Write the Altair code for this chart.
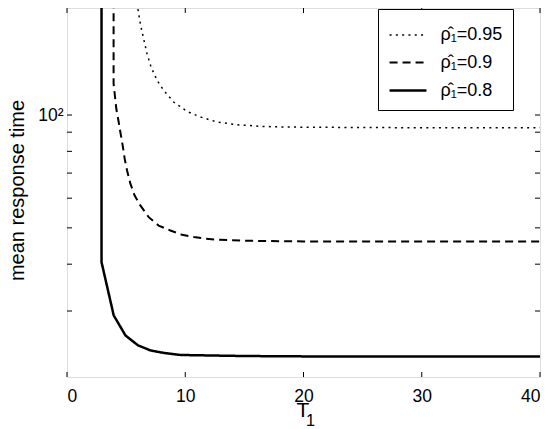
import altair as alt
import pandas as pd

# ---- data ----
LABELS = ["ρ̂₁=0.95", "ρ̂₁=0.9", "ρ̂₁=0.8"]
PAD = "\u2003\u2003"

T_095 = [5.8, 5.98, 6.2, 6.48, 6.77, 7.11, 7.62, 8.18, 9.02, 10.16, 11.28, 12.7,
         14.39, 16.64, 17.77, 20, 25, 30, 35, 40]
R_095 = [215, 193, 175.3, 159.8, 145.7, 134.3, 123.7, 116.3, 108.3, 102.2, 98.8, 95.8,
         94.2, 93.2, 93.0, 92.8, 92.6, 92.5, 92.5, 92.5]

T_09 = [3.94, 3.94, 4.17, 4.37, 4.51, 4.71, 4.88, 5.08, 5.36, 5.72, 6.2, 6.91, 7.75,
        8.74, 9.73, 10.72, 11.71, 12.7, 15, 20, 25, 30, 35, 40]
R_09 = [1000, 121.2, 103.9, 95.8, 90.1, 82.9, 76.4, 71.1, 65.6, 61.0, 57.4, 53.4, 50.7,
        49.2, 47.9, 47.3, 46.8, 46.5, 46.2, 46.0, 46.0, 46.0, 46.0, 46.0]

T_08 = [2.92, 2.92, 3.95, 4.95, 6.0, 7.05, 8.15, 9.6, 11.3, 15, 20, 25, 30, 35, 40]
R_08 = [1000, 40.5, 29.2, 25.8, 24.3, 23.55, 23.2, 22.9, 22.85, 22.75, 22.7, 22.7,
        22.7, 22.7, 22.7]

X_TICKS = [0, 10, 20, 30, 40]
Y_TICKS = [30, 40, 50, 60, 70, 80, 90, 100]
X_DOMAIN = [0, 40]
Y_DOMAIN = [20, 193]
SUBSCRIPT = ["1"]

rows = []
for lab, ts, rs in zip(LABELS, [T_095, T_09, T_08], [R_095, R_09, R_08]):
    for i, (t, r) in enumerate(zip(ts, rs)):
        rows.append({"series": lab, "t": t, "v": r, "i": i})
df = pd.DataFrame(rows)

W, H = 473, 369
FONT = "Liberation Sans, Arial, Helvetica, sans-serif"

xscale = alt.Scale(domain=X_DOMAIN, nice=False, zero=False)
yscale = alt.Scale(type="log", domain=Y_DOMAIN, nice=False)

xaxis = alt.Axis(
    values=X_TICKS, title="T", ticks=False, tickSize=0, domain=False, grid=False,
    labelPadding=10, labelFont=FONT, labelFontSize=17.5, labelColor="black",
    titleFont=FONT, titleFontSize=21, titleFontWeight="normal", titleColor="black",
    titleX=235.3, titleY=39.7, titleBaseline="alphabetic", titleAlign="center")
yaxis = alt.Axis(
    values=Y_TICKS, labelExpr="datum.value == 100 ? '10²' : ''",
    title="mean response time", ticks=False, tickSize=0, domain=False, grid=False,
    labelPadding=4, labelFont=FONT, labelFontSize=17.5, labelColor="black",
    titleFont=FONT, titleFontSize=20, titleFontWeight="normal", titleColor="black",
    titleX=-44, titleY=182, titleAngle=270, titleBaseline="alphabetic",
    titleAlign="center")

legend = alt.Legend(
    title=None, orient="none", legendX=311, legendY=1,
    strokeColor="black", fillColor="white", padding=10,
    symbolType="M-1.23,0H1.23", symbolSize=900, symbolOffset=3.5,
    symbolStrokeColor="black", labelOffset=16,
    labelExpr="datum.label + '" + PAD + "'",
    labelFont=FONT, labelFontSize=18, labelColor="black", rowPadding=2.5,
)

lines = alt.Chart(df).mark_line(clip=True, color="black").encode(
    x=alt.X("t:Q", scale=xscale, axis=xaxis),
    y=alt.Y("v:Q", scale=yscale, axis=yaxis),
    strokeDash=alt.StrokeDash("series:N", scale=alt.Scale(
        domain=LABELS, range=[[2, 4.3], [8, 5], [1, 0]]), legend=legend),
    strokeWidth=alt.StrokeWidth("series:N", scale=alt.Scale(
        domain=LABELS, range=[1.5, 2.5, 2.5]), legend=legend),
    order="i:Q",
)

xt = pd.DataFrame({"t": X_TICKS})
yt = pd.DataFrame({"v": Y_TICKS})
rule = dict(color="black", strokeWidth=1)
x_bot = alt.Chart(xt).mark_rule(**rule).encode(
    x=alt.X("t:Q", scale=xscale, axis=xaxis), y=alt.value(H - 5), y2=alt.value(H))
x_top = alt.Chart(xt).mark_rule(**rule).encode(
    x=alt.X("t:Q", scale=xscale, axis=xaxis), y=alt.value(0), y2=alt.value(5))
y_left = alt.Chart(yt).mark_rule(**rule).encode(
    y=alt.Y("v:Q", scale=yscale, axis=yaxis), x=alt.value(0), x2=alt.value(5))
y_right = alt.Chart(yt).mark_rule(**rule).encode(
    y=alt.Y("v:Q", scale=yscale, axis=yaxis), x=alt.value(W - 5), x2=alt.value(W))

sub = alt.Chart(pd.DataFrame({"s": SUBSCRIPT})).mark_text(
    font=FONT, fontSize=16.3, align="left", baseline="alphabetic", color="black"
).encode(text="s:N", x=alt.value(239), y=alt.value(418))

chart = alt.layer(lines, x_bot, x_top, y_left, y_right, sub).properties(
    width=W, height=H,
    autosize=alt.AutoSizeParams(type="none"),
    padding={"left": 59, "top": 0, "right": 8, "bottom": 52},
).configure_view(stroke="black", strokeWidth=1).configure(background="white")

chart.save("out.html", embed_options={"renderer": "svg", "actions": False})
